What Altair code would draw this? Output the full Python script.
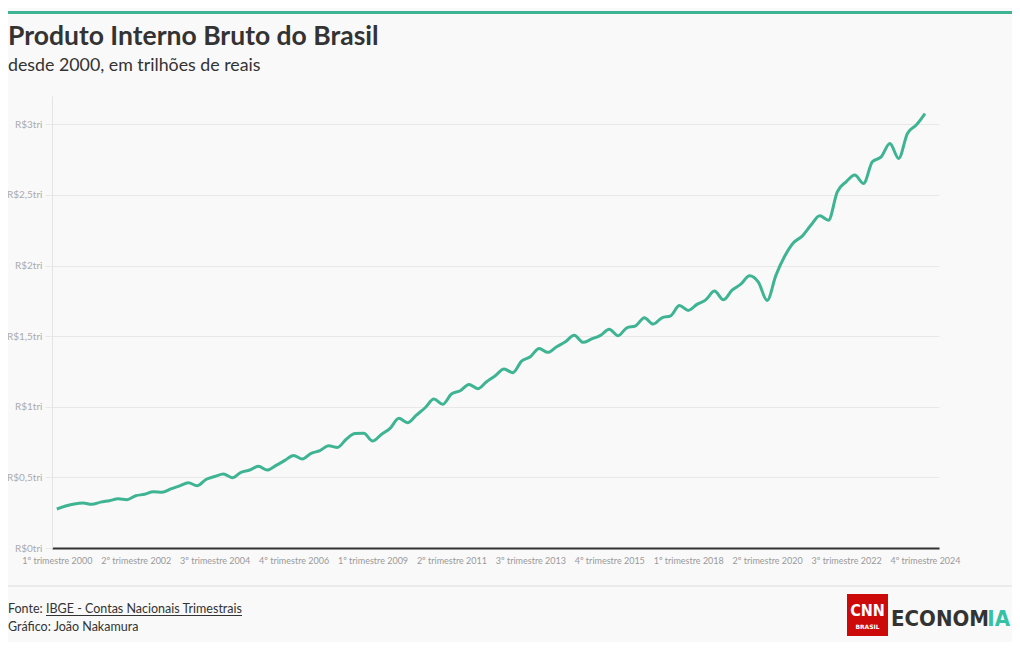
import altair as alt
import pandas as pd

# ---------------- data ----------------
gdp_tri = [
    0.276, 0.297, 0.312, 0.318,   # 2000
    0.309, 0.325, 0.335, 0.348,   # 2001
    0.342, 0.370, 0.380, 0.398,   # 2002
    0.394, 0.418, 0.440, 0.462,   # 2003
    0.441, 0.485, 0.506, 0.524,   # 2004
    0.498, 0.536, 0.552, 0.578,   # 2005
    0.552, 0.585, 0.620, 0.655,   # 2006
    0.630, 0.670, 0.690, 0.724,   # 2007
    0.712, 0.770, 0.810, 0.812,   # 2008
    0.757, 0.804, 0.847, 0.918,   # 2009
    0.887, 0.941, 0.993, 1.054,   # 2010
    1.017, 1.090, 1.113, 1.158,   # 2011
    1.128, 1.177, 1.220, 1.267,   # 2012
    1.241, 1.323, 1.354, 1.413,   # 2013
    1.385, 1.425, 1.460, 1.507,   # 2014
    1.456, 1.480, 1.505, 1.548,   # 2015
    1.503, 1.559, 1.573, 1.630,   # 2016
    1.585, 1.630, 1.644, 1.717,   # 2017
    1.682, 1.725, 1.757, 1.819,   # 2018
    1.757, 1.825, 1.868, 1.927,   # 2019
    1.882, 1.753, 1.930, 2.065,   # 2020
    2.161, 2.208, 2.286, 2.352,   # 2021
    2.321, 2.522, 2.592, 2.640,   # 2022
    2.581, 2.734, 2.769, 2.864,   # 2023
    2.758, 2.935, 2.994, 3.076,   # 2024
]
years = list(range(2000, 2025))
quarters = ["1º", "2º", "3º", "4º"]
quarter_labels = [f"{q} trimestre {y}" for y in years for q in quarters]

tick_index = [0, 9, 18, 27, 36, 45, 54, 63, 72, 81, 90, 99]
tick_labels = [
    "1º trimestre 2000", "2º trimestre 2002", "3º trimestre 2004",
    "4º trimestre 2006", "1º trimestre 2009", "2º trimestre 2011",
    "3º trimestre 2013", "4º trimestre 2015", "1º trimestre 2018",
    "2º trimestre 2020", "3º trimestre 2022", "4º trimestre 2024",
]
y_ticks = [0, 0.5, 1, 1.5, 2, 2.5, 3]

title_text = "Produto Interno Bruto do Brasil"
subtitle_text = "desde 2000, em trilhões de reais"
source_label = "Fonte:"
source_link = "IBGE - Contas Nacionais Trimestrais"
credit_text = "Gráfico: João Nakamura"

df = pd.DataFrame({"i": list(range(len(gdp_tri))), "v": gdp_tri, "q": quarter_labels})

# ---------------- style ----------------
FONT = "Lato"
TEAL = "#3fb493"
BG = "#f9f9f9"

labels_js = "[" + ",".join("'" + s + "'" for s in tick_labels) + "]"
index_js = "[" + ",".join(str(v) for v in tick_index) + "]"

line = alt.Chart(df).mark_line(
    color=TEAL, strokeWidth=3, interpolate="monotone"
).encode(
    x=alt.X(
        "i:Q",
        scale=alt.Scale(domain=[-0.55, 100.6], nice=False, zero=False),
        axis=alt.Axis(
            values=tick_index,
            labelExpr=f"{labels_js}[indexof({index_js}, datum.value)]",
            title=None, grid=False, ticks=False,
            domainColor="#333333", domainWidth=2.2,
            labelColor="#9a9a9a", labelFontSize=9, labelFont=FONT,
            labelPadding=8, labelAngle=0, labelOverlap=False, labelFlush=False,
        ),
    ),
    y=alt.Y(
        "v:Q",
        scale=alt.Scale(domain=[0, 3.2], nice=False),
        axis=alt.Axis(
            values=y_ticks,
            labelExpr="'R$' + replace(format(datum.value, '.1~f'), '.', ',') + 'tri'",
            title=None, grid=True, gridColor="#e8e8e8", gridWidth=1,
            ticks=True, tickColor="#e8e8e8", tickSize=7,
            domainColor="#e4e4e4", domainWidth=1,
            labelColor="#ababab", labelFontSize=10, labelFont=FONT, labelPadding=3,
        ),
    ),
)


def txt(s, x, y, size, weight="normal", color="#333333", align="left", font=FONT):
    return alt.Chart(pd.DataFrame({"t": [s]})).mark_text(
        align=align, baseline="alphabetic", fontSize=size, fontWeight=weight,
        color=color, font=font,
    ).encode(x=alt.value(x), y=alt.value(y), text="t:N")


def rule(x1, x2, y, color, width):
    return alt.Chart(pd.DataFrame({"t": [0]})).mark_rule(
        color=color, strokeWidth=width
    ).encode(x=alt.value(x1), x2=alt.value(x2), y=alt.value(y))


def rect(x1, x2, y1, y2, color):
    return alt.Chart(pd.DataFrame({"t": [0]})).mark_rect(color=color).encode(
        x=alt.value(x1), x2=alt.value(x2), y=alt.value(y1), y2=alt.value(y2)
    )


layers = [
    rule(-52, 968, -83.5, TEAL, 3),
    txt(title_text, -44, -51, 26.5, "bold", "#333333"),
    txt(subtitle_text, -44, -25.5, 17.8, "normal", "#333333"),
    line,
    rule(-52, 968, 490, "#dddddd", 1),
    txt(source_label, -44, 516.5, 12.5, "normal", "#333333"),
    txt(source_link, -6, 516.5, 12.5, "normal", "#333333"),
    rule(-6, 190, 519.5, "#333333", 1),
    txt(credit_text, -44, 535, 12.5, "normal", "#333333"),
    rect(795, 836, 498, 540, "#cc0a0a"),
    txt("CNN", 815.5, 520, 16, "bold", "#ffffff", "center", "DejaVu Sans Condensed"),
    txt("BRASIL", 815.5, 533, 6, "bold", "#ffffff", "center", "DejaVu Sans"),
    txt("ECONOM", 937, 530, 22, "bold", "#333333", "right", "DejaVu Sans Condensed"),
    txt("IA", 958, 530, 22, "bold", "#34c2a4", "right", "DejaVu Sans Condensed"),
]

chart = alt.layer(*layers).properties(
    width=887,
    height=452,
    autosize=alt.AutoSizeParams(type="none"),
    padding={"left": 44, "top": 88, "right": 73, "bottom": 94},
    background=BG,
).configure_view(stroke=None)

chart.save("out.html", embed_options={"renderer": "svg", "actions": False})
